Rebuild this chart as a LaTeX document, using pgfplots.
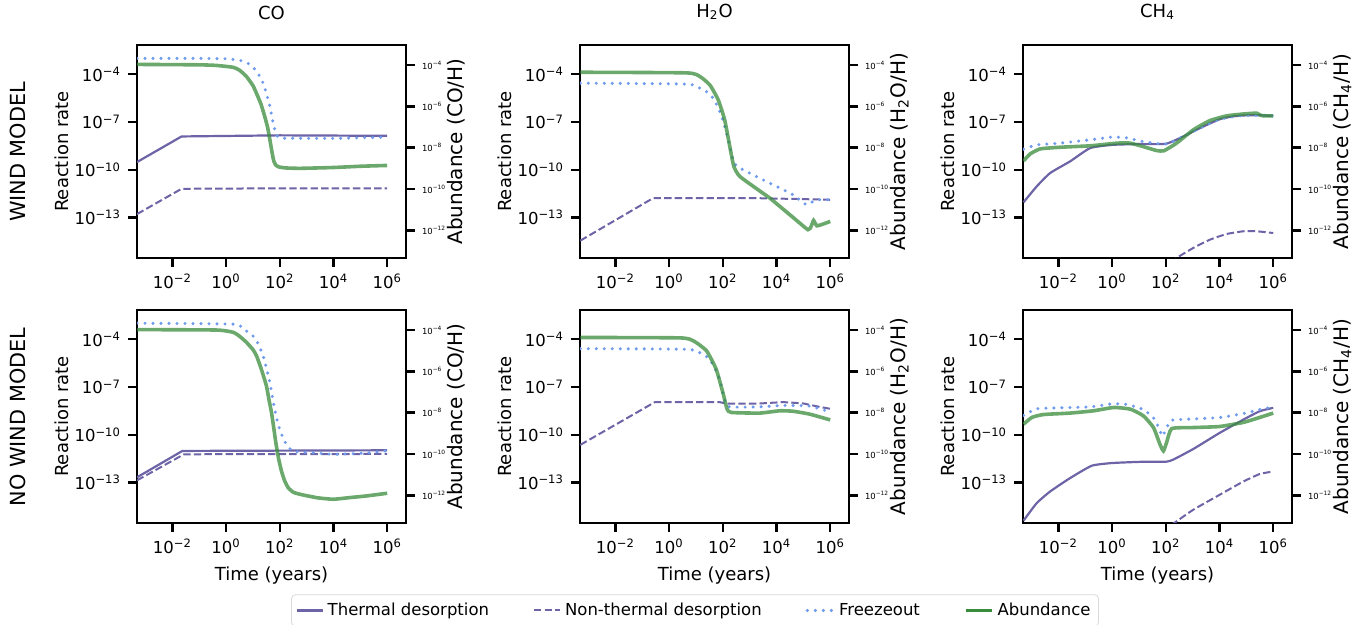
\documentclass[border=0pt]{standalone}
\usepackage{fontspec}
\setmainfont{DejaVu Sans}
\usepackage{pgfplots}
\pgfplotsset{compat=1.18}

\definecolor{cTh}{RGB}{108,100,166}
\definecolor{cFr}{RGB}{110,155,238}
\definecolor{cAb}{RGB}{56,140,58}

% tick label 10^n in the text font
\newcommand{\tl}[1]{10\textsuperscript{#1}}

% values are log10(time / years) and log10(rate or abundance)
\pgfplotsset{
  thermal/.style={color=cTh, line width=1.1pt},
  nonth/.style={color=cTh, line width=1.0pt, dash pattern=on 3.7pt off 1.6pt},
  freeze/.style={color=cFr, line width=1.7pt, line cap=round, dash pattern=on 0pt off 4pt},
  abund/.style={color=cAb, line width=1.8pt, opacity=0.75},
  base/.style={scale only axis, width=134.5pt, height=106.5pt, anchor=south west,
    xmin=-3.32, xmax=6.70, tick align=outside, major tick length=4.5pt,
    every tick/.style={black, line width=1.2pt}, axis line style={line width=1.3pt},
    label style={font=\fontsize{9}{11}\selectfont}},
  left panel/.style={base, ymin=-15.55, ymax=-2.16,
    xtick={-2,0,2,4,6}, xticklabels={\tl{−2},\tl{0},\tl{2},\tl{4},\tl{6}},
    ytick={-4,-7,-10,-13}, yticklabels={\tl{−4},\tl{−7},\tl{−10},\tl{−13}},
    tick pos=left, tick label style={font=\fontsize{8.25}{10}\selectfont},
    ylabel={Reaction rate}, ylabel shift=-4pt,
    title style={font=\fontsize{9}{11}\selectfont, yshift=3pt}},
  right panel/.style={base, ymin=-13.34, ymax=-3.03,
    hide x axis, axis y line*=right, ytick={-4,-6,-8,-10,-12},
    yticklabels={\tl{−4},\tl{−6},\tl{−8},\tl{−10},\tl{−12}},
    yticklabel style={font=\fontsize{4.2}{5}\selectfont},
    ylabel near ticks, ylabel shift=-6.5pt},
}

\begin{document}
\begin{tikzpicture}
\useasboundingbox (0,0) rectangle (684pt,312.5pt);

% ---------------- WIND MODEL ----------------
\begin{axis}[left panel, at={(68.5pt,183.5pt)}, title={CO}]
\addplot[thermal] coordinates {(-3.32,-9.52) (-1.66,-7.91) (2,-7.84) (6,-7.87)};
\addplot[nonth] coordinates {(-3.32,-12.79) (-1.66,-11.20) (2,-11.17) (6,-11.18)};
\addplot[freeze, smooth, tension=0.3] coordinates {(-3.32,-3.00) (-1,-3.00) (0,-3.03) (0.5,-3.12) (0.8,-3.30) (1.0,-3.55) (1.2,-3.98) (1.38,-4.56) (1.5,-5.20) (1.63,-6.03) (1.72,-6.80) (1.80,-7.40) (1.88,-7.85) (1.96,-7.98) (2.2,-8.02) (4,-8.03) (6,-7.95)};
\end{axis}
\begin{axis}[right panel, at={(68.5pt,183.5pt)}, ylabel={Abundance (CO/H)}]
\addplot[abund, smooth, tension=0.3] coordinates {(-3.32,-3.97) (-1,-3.99) (-0.36,-4.02) (0.26,-4.11) (0.5,-4.25) (0.76,-4.56) (1.0,-5.00) (1.13,-5.37) (1.30,-5.90) (1.44,-6.50) (1.55,-7.05) (1.63,-7.62) (1.72,-8.30) (1.78,-8.67) (1.86,-8.86) (1.96,-8.93) (2.2,-8.98) (2.75,-9.00) (4.0,-8.96) (5.0,-8.90) (6.0,-8.86)};
\end{axis}

\begin{axis}[left panel, at={(290pt,183.5pt)}, title={H\textsubscript{2}O}]
\addplot[nonth] coordinates {(-3.31,-14.46) (-0.59,-11.78) (3,-11.78) (5,-11.85) (6,-11.89)};
\addplot[freeze, smooth, tension=0.3] coordinates {(-3.31,-4.56) (0.65,-4.62) (1.15,-4.88) (1.40,-5.10) (1.64,-5.50) (1.85,-6.20) (2.00,-6.87) (2.20,-8.12) (2.38,-9.38) (2.50,-9.75) (2.63,-9.90) (3.37,-10.53) (4.12,-11.15) (4.61,-11.57) (5.11,-12.20) (5.36,-12.00) (5.60,-11.89) (6.00,-11.89)};
\end{axis}
\begin{axis}[right panel, at={(290pt,183.5pt)}, ylabel={Abundance (H\textsubscript{2}O/H)}]
\addplot[abund, smooth, tension=0.3] coordinates {(-3.31,-4.35) (0.65,-4.38) (1.15,-4.56) (1.52,-4.97) (1.83,-5.69) (2.07,-6.66) (2.26,-7.95) (2.41,-8.91) (2.63,-9.39) (3.37,-10.09) (3.75,-10.44) (4.12,-10.84) (4.61,-11.37) (5.17,-11.97) (5.29,-11.81) (5.38,-11.52) (5.50,-11.78) (5.73,-11.70) (6.00,-11.57)};
\end{axis}

\begin{axis}[left panel, at={(511.5pt,183.5pt)}, title={CH\textsubscript{4}}]
\addplot[thermal, smooth, tension=0.3] coordinates {(-3.30,-12.05) (-2.81,-11.05) (-2.31,-10.21) (-1.57,-9.48) (-0.82,-8.64) (0,-8.44) (0.92,-8.39) (2.0,-8.37) (2.65,-7.91) (3.4,-7.28) (4.02,-6.82) (4.5,-6.65) (4.89,-6.59) (5.38,-6.57) (6.0,-6.62)};
\addplot[nonth, smooth, tension=0.3] coordinates {(2.20,-15.90) (2.40,-15.55) (3.02,-14.92) (3.64,-14.40) (4.27,-14.04) (4.89,-13.87) (5.38,-13.87) (6.00,-13.98)};
\addplot[freeze, smooth, tension=0.3] coordinates {(-3.30,-8.71) (-2.81,-8.44) (-1.94,-8.33) (-0.82,-8.12) (0,-7.95) (0.54,-8.00) (1.16,-8.23) (2.0,-8.39) (2.65,-7.91) (3.4,-7.28) (4.02,-6.82) (4.89,-6.59) (6.0,-6.62)};
\end{axis}
\begin{axis}[right panel, at={(511.5pt,183.5pt)}, ylabel={Abundance (CH\textsubscript{4}/H)}]
\addplot[abund, smooth, tension=0.3] coordinates {(-3.30,-8.64) (-3.05,-8.30) (-2.68,-8.06) (-1.94,-7.98) (-0.82,-7.91) (0.19,-7.78) (0.67,-7.78) (1.16,-7.95) (1.66,-8.14) (1.93,-8.15) (2.40,-7.78) (3.02,-7.14) (3.64,-6.69) (4.27,-6.46) (4.89,-6.37) (5.38,-6.33) (5.57,-6.45) (6.00,-6.46)};
\end{axis}

% ---------------- NO WIND MODEL ----------------
\begin{axis}[left panel, at={(68.5pt,51pt)}, xlabel={Time (years)}]
\addplot[thermal] coordinates {(-3.32,-12.68) (-1.63,-11.02) (6,-10.98)};
\addplot[nonth] coordinates {(-3.32,-12.87) (-1.57,-11.23) (6,-11.21)};
\addplot[freeze, smooth, tension=0.3] coordinates {(-3.32,-2.99) (0.26,-3.05) (0.6,-3.30) (1.0,-3.79) (1.2,-4.30) (1.38,-5.05) (1.5,-5.80) (1.63,-6.73) (1.72,-7.60) (1.81,-8.42) (1.90,-9.10) (2.0,-9.68) (2.12,-10.20) (2.25,-10.62) (2.5,-11.04) (3.37,-11.15) (3.99,-11.23) (5.23,-11.15) (6.0,-11.0)};
\end{axis}
\begin{axis}[right panel, at={(68.5pt,51pt)}, ylabel={Abundance (CO/H)}]
\addplot[abund, smooth, tension=0.3] coordinates {(-3.32,-3.98) (-0.36,-4.00) (0.26,-4.11) (0.5,-4.30) (0.76,-4.60) (1.0,-4.95) (1.13,-5.24) (1.3,-5.85) (1.5,-6.70) (1.6,-7.40) (1.69,-7.99) (1.77,-8.70) (1.85,-9.44) (1.95,-10.20) (2.06,-10.82) (2.18,-11.30) (2.31,-11.63) (2.5,-11.85) (2.75,-11.95) (3.4,-12.12) (3.99,-12.19) (4.61,-12.11) (5.23,-12.03) (6.0,-11.9)};
\end{axis}

\begin{axis}[left panel, at={(290pt,51pt)}, xlabel={Time (years)}]
\addplot[nonth] coordinates {(-3.31,-10.64) (-0.53,-7.95) (1.88,-7.95) (2.12,-8.04) (3.36,-8.04) (4.24,-7.95) (4.98,-8.03) (5.6,-8.25) (6.0,-8.37)};
\addplot[freeze, smooth, tension=0.3] coordinates {(-3.31,-4.59) (0.64,-4.63) (1.14,-4.84) (1.40,-5.10) (1.63,-5.58) (1.88,-6.52) (2.06,-7.78) (2.25,-8.25) (3.36,-8.25) (4.24,-8.16) (5.23,-8.20) (6.0,-8.58)};
\end{axis}
\begin{axis}[right panel, at={(290pt,51pt)}, ylabel={Abundance (H\textsubscript{2}O/H)}]
\addplot[abund, smooth, tension=0.3] coordinates {(-3.31,-4.36) (0.4,-4.38) (0.9,-4.52) (1.39,-5.00) (1.75,-5.89) (2.0,-7.02) (2.16,-7.83) (2.32,-7.99) (3.37,-8.02) (4.11,-7.91) (4.61,-7.93) (5.23,-8.07) (6.0,-8.35)};
\end{axis}

\begin{axis}[left panel, at={(511.5pt,51pt)}, xlabel={Time (years)}]
\addplot[thermal, smooth, tension=0.3] coordinates {(-3.30,-15.40) (-2.81,-14.30) (-2.31,-13.57) (-1.57,-12.73) (-0.76,-11.95) (0,-11.78) (1.16,-11.70) (2.0,-11.70) (2.27,-11.57) (3.02,-10.90) (4.0,-9.89) (4.89,-9.05) (5.5,-8.52) (6.0,-8.31)};
\addplot[nonth, smooth, tension=0.3] coordinates {(2.20,-15.70) (2.27,-15.60) (3.02,-14.72) (4.0,-13.78) (4.89,-12.94) (5.5,-12.47) (6.0,-12.31)};
\addplot[freeze, smooth, tension=0.3] coordinates {(-3.30,-8.79) (-2.81,-8.37) (-1.94,-8.31) (-0.82,-8.25) (0,-8.06) (0.56,-8.10) (1.16,-8.42) (1.54,-8.94) (1.75,-9.60) (1.87,-10.10) (2.05,-9.50) (2.22,-9.09) (3.02,-9.01) (4.0,-8.92) (4.89,-8.67) (5.5,-8.42) (6.0,-8.25)};
\end{axis}
\begin{axis}[right panel, at={(511.5pt,51pt)}, ylabel={Abundance (CH\textsubscript{4}/H)}]
\addplot[abund, smooth, tension=0.3] coordinates {(-3.30,-8.56) (-2.99,-8.23) (-2.56,-8.09) (-1.57,-8.02) (-0.70,-7.91) (0.06,-7.75) (0.68,-7.83) (1.16,-8.15) (1.54,-8.72) (1.78,-9.53) (1.91,-9.85) (2.03,-9.44) (2.22,-8.77) (3.02,-8.72) (4.0,-8.67) (4.89,-8.47) (5.5,-8.23) (6.0,-8.02)};
\end{axis}

% row labels
\node[rotate=90, font=\fontsize{10.4}{12}\selectfont] at (9pt,236.5pt) {WIND MODEL};
\node[rotate=90, font=\fontsize{10.4}{12}\selectfont] at (9pt,104pt) {NO WIND MODEL};

% shared legend
\begin{axis}[hide axis, scale only axis, width=10pt, height=10pt, anchor=center,
  at={(347.5pt,7.25pt)}, xmin=0, xmax=1, ymin=0, ymax=1, legend columns=4,
  legend style={at={(0.5,0.5)}, anchor=center, draw=black!15, rounded corners=2pt,
    font=\fontsize{8.25}{10}\selectfont, inner sep=2pt,
    /tikz/every even column/.append style={column sep=20pt}},
  legend cell align=left,
  legend image code/.code={\draw[#1] (0pt,0pt) -- (13pt,0pt);}]
\addlegendimage{thermal}\addlegendentry{Thermal desorption}
\addlegendimage{nonth}\addlegendentry{Non-thermal desorption}
\addlegendimage{freeze}\addlegendentry{Freezeout}
\addlegendimage{abund, opacity=1}\addlegendentry{Abundance}
\end{axis}
\end{tikzpicture}
\end{document}
